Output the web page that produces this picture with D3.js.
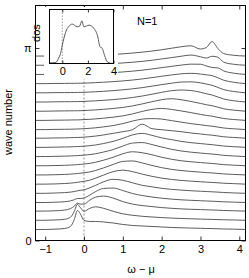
<!DOCTYPE html>
<html><head><meta charset="utf-8">
<script src="https://cdn.jsdelivr.net/npm/d3@7"></script>
<style>body{margin:0;background:#fff}svg{display:block}text{font-family:"Liberation Sans",Arial,sans-serif}</style>
</head><body><svg id="c" width="249" height="278"></svg>
<script>
// energy grid (omega - mu)
const omega = [-1.25,-1.0,-0.75,-0.5,-0.35,-0.25,-0.17,-0.1,0,0.15,0.3,0.5,0.75,1.0,1.25,1.5,1.75,2.0,2.25,2.5,2.75,3.0,3.15,3.3,3.45,3.6,3.85,4.16];
// wave number offsets of each spectrum (k = 0 ... pi)
const waveOffsets = [0.18,0.33,0.48,0.62,0.77,0.92,1.07,1.22,1.37,1.52,1.67,1.81,1.96,2.11,2.26,2.41,2.56,2.71,2.86,3.01];
// spectral intensities (arbitrary units), one row per wave number
const spectra = [
 [0,0,0.3,1,3,10,19,16,9,8,8,7.5,6.5,5,4,3.5,3,2.5,2,1.7,1.4,1.2,1,0.9,0.7,0.5,0.3,0],
 [0,0,0.3,1,3,9,16,13,9,12,13.5,12,9,6.5,5,4,3.3,2.7,2.2,1.8,1.5,1.2,1,0.9,0.7,0.5,0.3,0],
 [0,0,0.3,1,2.5,5,8,7,7,11,14,15,13,9.5,7,5.5,4.5,3.5,2.8,2.2,1.8,1.5,1.3,1.1,0.9,0.6,0.3,0],
 [0,0,0.3,0.8,1.6,2.8,4,4,4.5,7.5,11,14,14.5,12,9,7,5.5,4.3,3.4,2.7,2.2,1.8,1.5,1.3,1,0.7,0.4,0],
 [0,0,0.3,0.7,1.2,1.8,2.5,3,3.5,5.5,8,11.5,14,13,10.5,8,6.5,5,4,3.2,2.6,2.1,1.8,1.5,1.2,0.8,0.4,0],
 [0,0,0.2,0.6,1,1.4,1.8,2.2,2.8,4,6,9,12.5,14,12.5,10,7.8,6,4.7,3.7,3,2.4,2,1.7,1.3,0.9,0.5,0],
 [0,0,0.2,0.5,0.8,1.1,1.4,1.7,2.2,3,4.5,7,10.5,13.5,14,12,9.5,7.3,5.6,4.4,3.5,2.8,2.3,2,1.5,1,0.5,0],
 [0,0,0.2,0.4,0.7,0.9,1.1,1.3,1.7,2.4,3.5,5.5,8.5,12,14,13,11,8.5,6.5,5,4,3.2,2.7,2.3,1.7,1.1,0.6,0],
 [0,0,0.2,0.4,0.6,0.8,0.9,1.1,1.4,2,2.8,4.5,7,10.5,13.5,14,12,9.5,7.3,5.6,4.4,3.5,3,2.5,1.9,1.2,0.6,0],
 [0,0,0.2,0.4,0.5,0.7,0.8,0.9,1.2,1.7,2.4,3.8,6,9,12.5,14,12,9.5,7.8,6,4.7,3.8,3.2,2.7,2,1.3,0.7,0],
 [0,0,0.2,0.3,0.5,0.6,0.7,0.8,1,1.5,2.1,3.2,4.8,6.5,8.5,14,9.5,8.5,7.5,6.5,5.2,4.2,3.5,3,2.2,1.4,0.7,0],
 [0,0,0.2,0.3,0.4,0.5,0.6,0.7,0.9,1.3,1.8,2.7,4,6,8.5,10.5,11,10.5,9,7.5,6,4.8,4,3.4,2.5,1.6,0.8,0],
 [0,0,0.2,0.3,0.4,0.5,0.5,0.6,0.8,1.1,1.5,2.2,3.2,4.5,6.5,9,11,12,11,9.5,7.8,6,5,4.2,3,1.9,0.9,0],
 [0,0,0.2,0.3,0.4,0.4,0.5,0.5,0.7,1,1.3,1.9,2.7,3.8,5.3,7.3,9.5,11.5,12.5,11.5,9.8,7.8,6.5,5.5,4,2.4,1.1,0],
 [0,0,0.2,0.3,0.3,0.4,0.4,0.5,0.6,0.9,1.2,1.7,2.4,3.3,4.5,6,7.8,9.7,11.3,12,11.5,9.8,8.3,7,5,3,1.3,0],
 [0,0,0.2,0.2,0.3,0.3,0.4,0.4,0.5,0.8,1.1,1.5,2.2,3,4,5.2,6.7,8.2,9.6,10.8,11,10,8.8,7.5,5.4,3.2,1.4,0],
 [0,0,0.2,0.2,0.3,0.3,0.4,0.4,0.5,0.7,1,1.4,2,2.7,3.6,4.7,6,7.4,8.7,9.8,10.3,9.6,8.8,8,5.8,3.4,1.4,0],
 [0,0,0.2,0.2,0.3,0.3,0.3,0.4,0.5,0.7,0.9,1.3,1.8,2.5,3.3,4.3,5.5,6.8,8.1,9.3,10.3,10.2,8.5,7,6.5,3.5,1.3,0],
 [0,0,0.2,0.2,0.3,0.3,0.3,0.3,0.4,0.6,0.8,1.2,1.7,2.3,3,3.9,5,6.3,7.6,9,10.2,8.5,7.2,9,8,3,1,0],
 [0,0,0.2,0.2,0.2,0.3,0.3,0.3,0.4,0.5,0.7,1.1,1.6,2.2,3,3.9,5,6.3,7.8,9.3,10.3,7,8.5,14.5,7.5,2.5,0.8,0]
];
// inset: density of states
const dosOmega = [-1,-0.5,-0.29,-0.13,0,0.13,0.26,0.52,0.78,1.17,1.35,1.53,1.69,2.08,2.47,2.78,2.94,3.12,3.3,3.52,3.77,4];
const dosValue = [0.01,0.02,0.1,0.19,0.34,0.47,0.58,0.69,0.73,0.68,0.69,0.79,0.68,0.71,0.65,0.49,0.31,0.28,0.15,0.03,0.005,0];
const xTicks = [-1,0,1,2,3,4];
const yTicks = [0, Math.PI];
const yTickLabels = ["0","π"];
const insetTicks = [0,2,4];

const svg = d3.select("#c");
const L=35.5,R=245.5,T=5.5,B=240.5;
const x = d3.scaleLinear().domain([-1.25,4.16]).range([L,R]);
const y = d3.scaleLinear().domain([0,3.835]).range([B,T]);
const amp = 0.0163; // intensity units -> wave-number units
const fmt = d3.format("d");

// dashed zero line
svg.append("line").attr("x1",x(0)).attr("x2",x(0)).attr("y1",T).attr("y2",B)
  .attr("stroke","#777").attr("stroke-width",0.8).attr("stroke-dasharray","2,2");

const line = d3.line().curve(d3.curveMonotoneX);
spectra.forEach((row,i)=>{
  const pts = row.map((v,j)=>[x(omega[j]), y(waveOffsets[i]+v*amp)]);
  svg.append("path").attr("d",line(pts)).attr("fill","none")
    .attr("stroke","#4a4a4a").attr("stroke-width",0.9);
});

// axes
const fs = "11px";
const gx = svg.append("g").attr("transform",`translate(0,${B})`)
  .call(d3.axisBottom(x).tickValues(xTicks).tickFormat(fmt).tickSizeInner(-4).tickSizeOuter(0).tickPadding(5));
const gxt = svg.append("g").attr("transform",`translate(0,${T})`)
  .call(d3.axisTop(x).tickValues(xTicks).tickSizeInner(-4).tickSizeOuter(0).tickFormat(""));
const gy = svg.append("g").attr("transform",`translate(${L},0)`)
  .call(d3.axisLeft(y).tickValues(yTicks).tickFormat((d,i)=>yTickLabels[i]).tickSizeInner(-4).tickSizeOuter(0).tickPadding(4));
const gyr = svg.append("g").attr("transform",`translate(${R},0)`)
  .call(d3.axisRight(y).tickValues(yTicks).tickSizeInner(-4).tickSizeOuter(0).tickFormat(""));
[gx,gxt,gy,gyr].forEach(g=>{
  g.select(".domain").remove();
  g.selectAll("line").attr("stroke","#000").attr("stroke-width",0.8);
  g.selectAll("text").attr("font-size",fs).attr("fill","#000").style("font-family","Liberation Sans, Arial, sans-serif");
});
svg.append("rect").attr("x",L).attr("y",T).attr("width",R-L).attr("height",B-T)
  .attr("fill","none").attr("stroke","#000").attr("stroke-width",1);

svg.append("text").attr("transform","translate(12,122) rotate(-90)").attr("text-anchor","middle")
  .attr("font-size","11px").text("wave number");
svg.append("text").attr("x",141).attr("y",273).attr("text-anchor","middle")
  .attr("font-size","11px").text("ω − μ");
svg.append("text").attr("x",137).attr("y",25).attr("font-size","11px").text("N=1");

// inset
svg.append("rect").attr("x",44).attr("y",7).attr("width",74).attr("height",72).attr("fill","#fff");
const iL=49.5,iR=113.5,iT=9.5,iB=63.5;
const ix = d3.scaleLinear().domain([-1,4]).range([iL,iR]);
const iy = d3.scaleLinear().domain([0,1]).range([iB,iT]);
svg.append("line").attr("x1",ix(0)).attr("x2",ix(0)).attr("y1",iT).attr("y2",iB)
  .attr("stroke","#888").attr("stroke-width",0.8).attr("stroke-dasharray","1.5,1.5");
svg.append("path").attr("d",d3.line().curve(d3.curveMonotoneX)(dosOmega.map((w,j)=>[ix(w),iy(dosValue[j])])))
  .attr("fill","none").attr("stroke","#4a4a4a").attr("stroke-width",0.9);
const gix = svg.append("g").attr("transform",`translate(0,${iB})`)
  .call(d3.axisBottom(ix).tickValues(insetTicks).tickFormat(fmt).tickSizeInner(-3).tickSizeOuter(0).tickPadding(4));
const gixt = svg.append("g").attr("transform",`translate(0,${iT})`)
  .call(d3.axisTop(ix).tickValues(insetTicks).tickSizeInner(-3).tickSizeOuter(0).tickFormat(""));
[gix,gixt].forEach(g=>{
  g.select(".domain").remove();
  g.selectAll("line").attr("stroke","#000").attr("stroke-width",0.8);
  g.selectAll("text").attr("font-size",fs).attr("fill","#000").style("font-family","Liberation Sans, Arial, sans-serif");
});
svg.append("rect").attr("x",iL).attr("y",iT).attr("width",iR-iL).attr("height",iB-iT)
  .attr("fill","none").attr("stroke","#000").attr("stroke-width",1);
svg.append("text").attr("transform","translate(40,33) rotate(-90)").attr("text-anchor","middle")
  .attr("font-size","11px").text("dos");
</script></body></html>
